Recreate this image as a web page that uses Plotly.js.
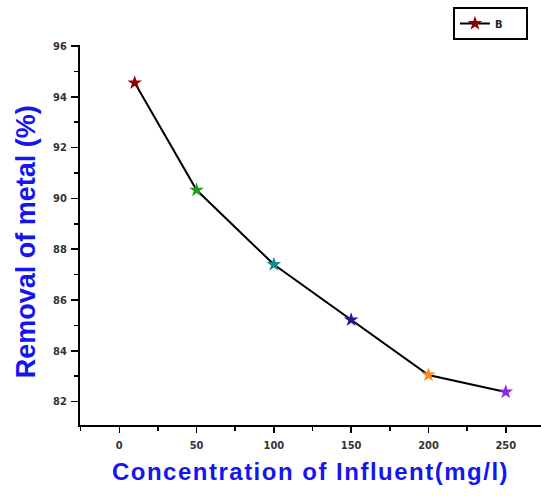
<!DOCTYPE html>
<html>
<head>
<meta charset="utf-8">
<script src="https://cdn.plot.ly/plotly-3.0.1.min.js"></script>
<style>
  html, body { margin: 0; padding: 0; background: #fff; }
  #chart { width: 541px; height: 496px; }
  .xtitle { letter-spacing: 1.5px; }
</style>
</head>
<body>
<div id="chart"></div>
<script>
// Data
const concentration = [10, 50, 100, 150, 200, 250];
const removal = [94.55, 90.33, 87.4, 85.22, 83.05, 82.38];
const pointColors = ['#8b0000', '#1f9a1f', '#138a8a', '#1a1a9a', '#ff8a1a', '#8a2be2'];
const seriesName = 'B';
const xTitle = 'Concentration of Influent(mg/l)';
const yTitle = 'Removal of metal (%)';

const narrow = '"Liberation Sans Narrow", "Arial Narrow", "DejaVu Sans Condensed", sans-serif';
const tickFont = { family: narrow, size: 11, color: '#333', weight: 'bold' };
const titleFont = { family: '"Liberation Sans", Arial, sans-serif', color: '#1515f0' };

const trace = {
  x: concentration,
  y: removal,
  name: seriesName,
  type: 'scatter',
  mode: 'lines+markers',
  line: { color: '#000', width: 2 },
  marker: { symbol: 'star', size: 11, color: pointColors, line: { width: 0 } },
  showlegend: true
};

const layout = {
  width: 541,
  height: 496,
  margin: { l: 80, r: 0, t: 45, b: 71, autoexpand: false },
  paper_bgcolor: '#fff',
  plot_bgcolor: '#fff',
  showlegend: true,
  legend: {
    orientation: 'h',
    x: 0.809, xanchor: 'left',
    y: 1.1, yanchor: 'top',
    bordercolor: '#000', borderwidth: 2, bgcolor: '#fff',
    entrywidth: 26, entrywidthmode: 'pixels',
    font: { family: narrow, size: 11, color: '#222', weight: 'bold' }
  },
  xaxis: {
    range: [-25.4, 272.8],
    tick0: 0, dtick: 50,
    ticks: 'outside', ticklen: 6, tickwidth: 1.5, tickcolor: '#000',
    showline: true, linecolor: '#000', linewidth: 2,
    showgrid: false, zeroline: false,
    ticklabelstandoff: 3,
    tickfont: tickFont,
    minor: { dtick: 25, tick0: 0, ticks: 'outside', ticklen: 4, tickwidth: 1.5, tickcolor: '#000', showgrid: false },
    title: { text: '<b>' + xTitle + '</b>', font: Object.assign({ size: 24 }, titleFont), standoff: 12 }
  },
  yaxis: {
    range: [81.08, 96.04],
    tick0: 0, dtick: 2,
    ticks: 'outside', ticklen: 7, tickwidth: 1.5, tickcolor: '#000',
    showline: true, linecolor: '#000', linewidth: 2,
    showgrid: false, zeroline: false,
    ticklabelstandoff: 2,
    tickfont: tickFont,
    minor: { dtick: 1, tick0: 0, ticks: 'outside', ticklen: 4, tickwidth: 1.5, tickcolor: '#000', showgrid: false },
    title: { text: '<b>' + yTitle + '\u2002</b>', font: Object.assign({ size: 27 }, titleFont), standoff: 10 }
  }
};

Plotly.newPlot('chart', [trace], layout, { staticPlot: true, displayModeBar: false });
</script>
</body>
</html>
